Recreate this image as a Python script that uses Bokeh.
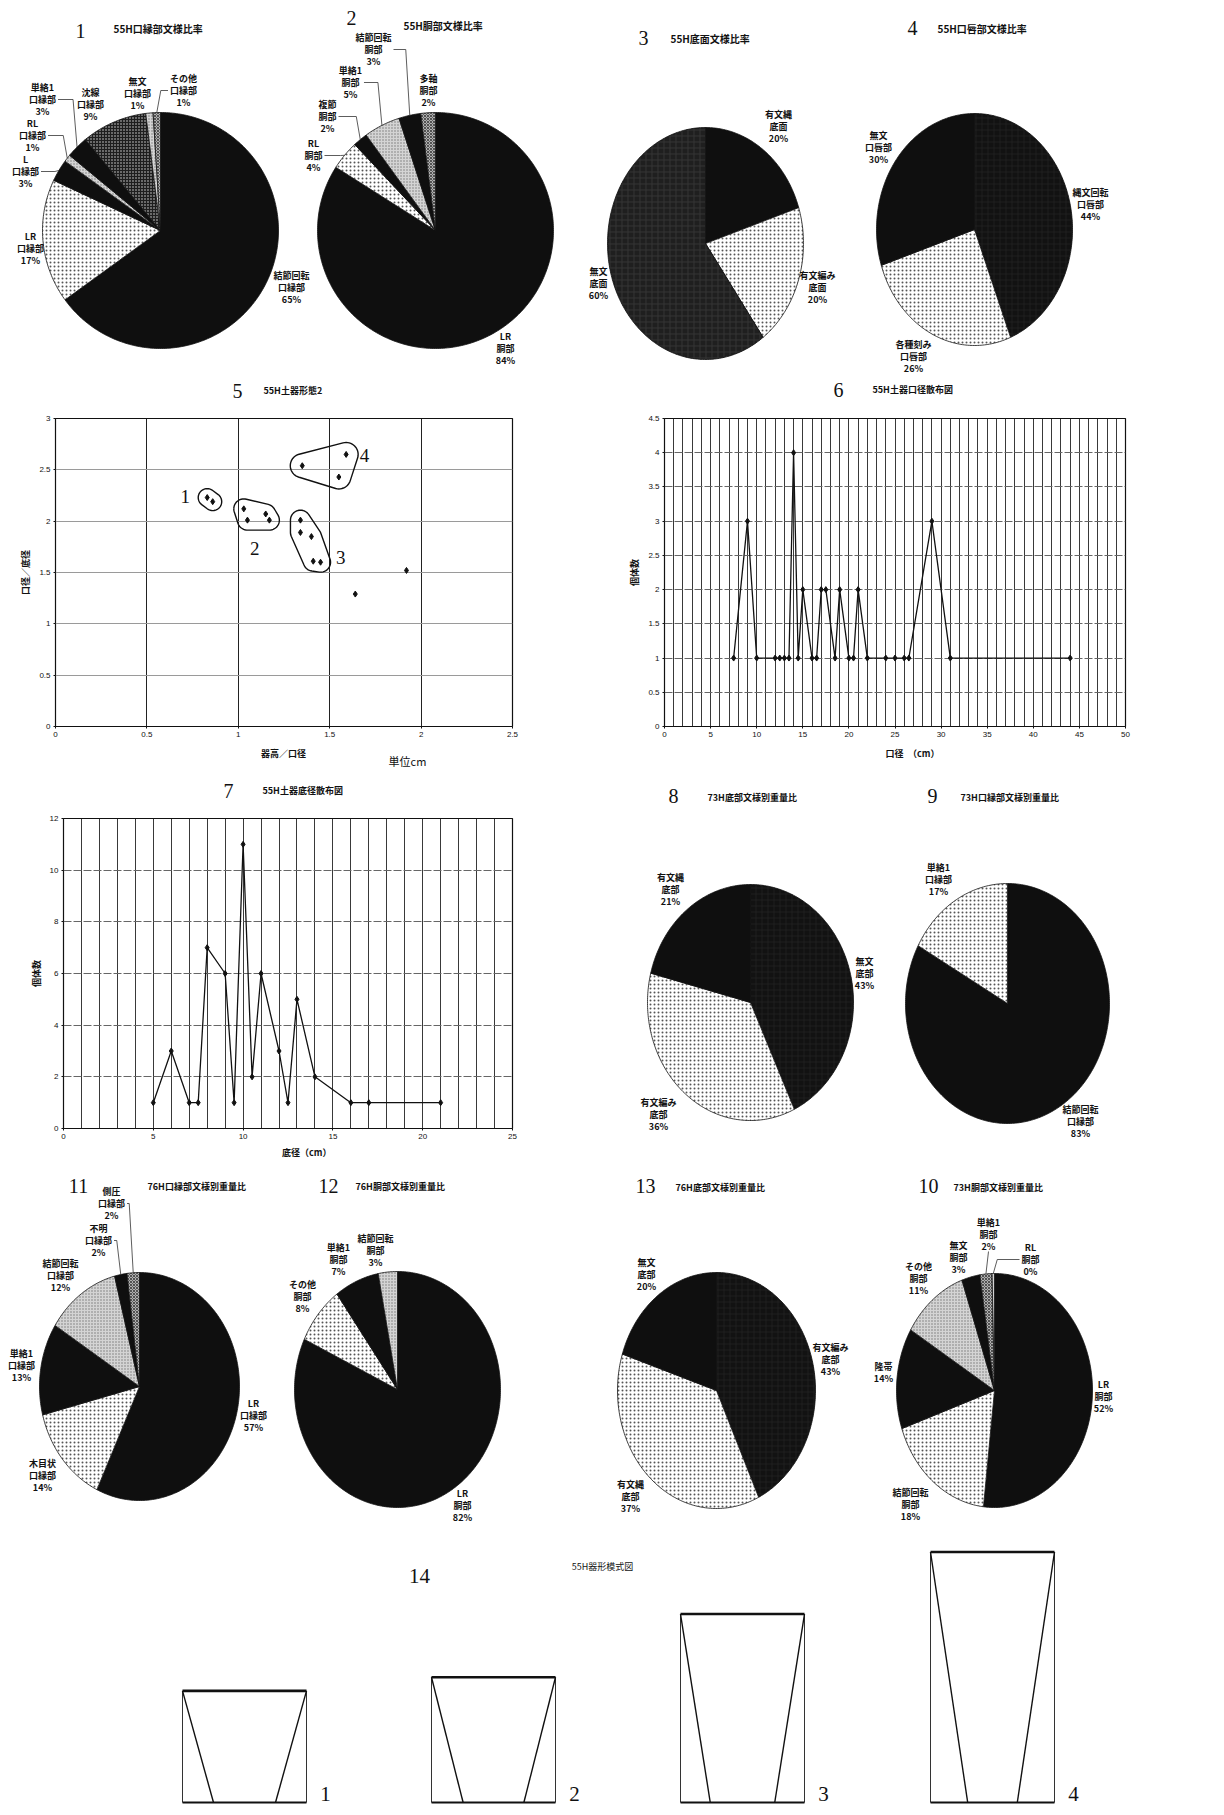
import numpy as np
from bokeh.plotting import figure
from bokeh.models import Range1d, NumeralTickFormatter, SingleIntervalTicker
from bokeh.layouts import column, row
from bokeh.embed import file_html
from bokeh.resources import INLINE
from bokeh.core.properties import value

JP = "Noto Sans CJK JP"
SERIF = "Liberation Serif"
SANS = "Liberation Sans"
INK = "#111111"

# ======================= DATA =======================
P1_NAMES = ["結節回転\n口縁部", "LR\n口縁部", "L\n口縁部", "RL\n口縁部", "単絡1\n口縁部",
            "沈線\n口縁部", "無文\n口縁部", "その他\n口縁部"]
P1_VALUES = [65, 17, 3, 1, 3, 9, 1, 1]
P2_NAMES = ["LR\n胴部", "RL\n胴部", "複節\n胴部", "単絡1\n胴部", "結節回転\n胴部", "多軸\n胴部"]
P2_VALUES = [84, 4, 2, 5, 3, 2]
P3_NAMES = ["有文縄\n底面", "有文編み\n底面", "無文\n底面"]
P3_VALUES = [20, 20, 60]
P4_NAMES = ["縄文回転\n口唇部", "各種刻み\n口唇部", "無文\n口唇部"]
P4_VALUES = [44, 26, 30]
P8_NAMES = ["無文\n底部", "有文編み\n底部", "有文縄\n底部"]
P8_VALUES = [43, 36, 21]
P9_NAMES = ["結節回転\n口縁部", "単絡1\n口縁部"]
P9_VALUES = [83, 17]
P11_NAMES = ["LR\n口縁部", "木目状\n口縁部", "単絡1\n口縁部", "結節回転\n口縁部", "不明\n口縁部", "側圧\n口縁部"]
P11_VALUES = [57, 14, 13, 12, 2, 2]
P12_NAMES = ["LR\n胴部", "その他\n胴部", "単絡1\n胴部", "結節回転\n胴部"]
P12_VALUES = [82, 8, 7, 3]
P13_NAMES = ["有文編み\n底部", "有文縄\n底部", "無文\n底部"]
P13_VALUES = [43, 37, 20]
P10_NAMES = ["LR\n胴部", "結節回転\n胴部", "隆帯", "その他\n胴部", "無文\n胴部", "単絡1\n胴部", "RL\n胴部"]
P10_VALUES = [52, 18, 14, 11, 3, 2, 0.4]

# chart 5 : 器高/口径 vs 口径/底径
S5_X = [0.83, 0.86, 1.03, 1.05, 1.15, 1.17, 1.34, 1.34, 1.40, 1.41, 1.45, 1.35, 1.55, 1.59, 1.92, 1.64]
S5_Y = [2.23, 2.19, 2.12, 2.01, 2.07, 2.01, 2.01, 1.89, 1.85, 1.61, 1.60, 2.54, 2.43, 2.65, 1.52, 1.29]
S5_GROUP = [1, 1, 2, 2, 2, 2, 3, 3, 3, 3, 3, 4, 4, 4, 0, 0]

# chart 6 : 口径 distribution
L6_X = [7.5, 9, 10, 12, 12.5, 13, 13.5, 14, 14.5, 15, 16, 16.5, 17, 17.5, 18.5, 19, 20, 20.5, 21, 22,
        24, 25, 26, 26.5, 29, 31, 44]
L6_Y = [1, 3, 1, 1, 1, 1, 1, 4, 1, 2, 1, 1, 2, 2, 1, 2, 1, 1, 2, 1, 1, 1, 1, 1, 3, 1, 1]

# chart 7 : 底径 distribution
L7_X = [5, 6, 7, 7.5, 8, 9, 9.5, 10, 10.5, 11, 12, 12.5, 13, 14, 16, 17, 21]
L7_Y = [1, 3, 1, 1, 7, 6, 1, 11, 2, 6, 3, 1, 5, 2, 1, 1, 1]

# chart 14 : vessel schematic (ratios to rim diameter)
V14_LABELS = ["1", "2", "3", "4"]
V14_HEIGHT = [0.90, 1.01, 1.52, 2.02]
V14_BASE = [0.50, 0.49, 0.52, 0.40]

# ======================= STYLES =======================
STYLE = {
    "black": dict(fill_color="#0f0f0f"),
    "dots": dict(fill_color="white", hatch_pattern="dot", hatch_color="#555555",
                 hatch_scale=4, hatch_weight=1.2),
    "light": dict(fill_color="#d4d4d4", hatch_pattern="dot", hatch_color="#777777",
                  hatch_scale=3, hatch_weight=1),
    "dark_check": dict(fill_color="#6a6a6a", hatch_pattern="cross", hatch_color="#1e1e1e",
                       hatch_scale=3, hatch_weight=1),
    "gray_check": dict(fill_color="#b0b0b0", hatch_pattern="diagonal_cross", hatch_color="#3a3a3a",
                       hatch_scale=3, hatch_weight=0.8),
    "tex_gray": dict(fill_color="#1f1f1f", hatch_pattern="cross", hatch_color="#333333",
                     hatch_scale=6, hatch_weight=1),
    "tex_dark": dict(fill_color="#121212", hatch_pattern="cross", hatch_color="#1e1e1e",
                     hatch_scale=6, hatch_weight=1),
}


def text_hw(s, size=9):
    lines = s.split("\n")
    w = max(sum(0.55 if ord(c) < 256 else 1.0 for c in ln) for ln in lines) * size
    return w / 2 + 2


def page_fig(x0, y0, w, h):
    p = figure(width=w, height=h, x_range=Range1d(x0, x0 + w), y_range=Range1d(y0 + h, y0),
               x_axis_type=None, y_axis_type=None, toolbar_location=None, output_backend="svg",
               min_border=0, title=None)
    p.outline_line_color = None
    p.background_fill_color = "white"
    p.border_fill_color = "white"
    return p


def put_text(p, xs, ys, texts, size="9px", font=JP, style="bold", align="center", baseline="middle"):
    p.text(x=xs, y=ys, text=texts, text_font=value(font), text_font_size=size, text_font_style=style,
           text_align=align, text_baseline=baseline, text_color=INK, text_line_height=0.95)


def put_title(p, num, nx, ny, ttl, tx, ty, size="9px"):
    put_text(p, [nx], [ny], [num], size="20px", font=SERIF, style="normal")
    put_text(p, [tx], [ty], [ttl], size=size, align="left")


def draw_pie(p, names, values, styles, geom, label_xy, leaders):
    cx, cy, rx, ry = geom
    vals = np.array(values, dtype=float)
    frac = vals / vals.sum()
    edges = np.concatenate([[0.0], np.cumsum(frac)]) * 2 * np.pi
    for i in range(len(vals)):
        a0, a1 = edges[i], edges[i + 1]
        n = max(3, int(np.degrees(a1 - a0)) + 3)
        t = np.linspace(a0, a1, n)
        xs = np.concatenate([[cx], cx + rx * np.sin(t)])
        ys = np.concatenate([[cy], cy - ry * np.cos(t)])
        p.patch(xs, ys, line_color=INK, line_width=0.8, **STYLE[styles[i]])
    pct = np.round(frac * 100).astype(int)
    texts = [f"{nm}\n{v}%" for nm, v in zip(names, pct)]
    put_text(p, [q[0] for q in label_xy], [q[1] for q in label_xy], texts)
    for i, mode in leaders:
        mid = (edges[i] + edges[i + 1]) / 2
        ex, ey = cx + rx * np.sin(mid), cy - ry * np.cos(mid)
        lx, ly = label_xy[i]
        hw = text_hw(texts[i])
        if mode == "L":
            sx = lx + hw
            pts = [(sx, ly)] + ([(ex - 4, ly)] if ex - 4 > sx else []) + [(ex, ey)]
        elif mode == "R":
            sx = lx - hw
            pts = [(sx, ly)] + ([(ex + 4, ly)] if ex + 4 < sx else []) + [(ex, ey)]
        else:
            pts = [(lx, ly + 17), (ex, ey)]
        p.line([q[0] for q in pts], [q[1] for q in pts], line_color="#333333", line_width=0.8)


def axis_fig(x0, y0, w, h, frame, xr, yr):
    fl, ft, fr, fb = frame
    p = figure(width=w, height=h, x_range=Range1d(*xr), y_range=Range1d(*yr), toolbar_location=None,
               output_backend="svg", title=None,
               min_border_left=fl - x0, min_border_right=x0 + w - fr,
               min_border_top=ft - y0, min_border_bottom=y0 + h - fb)
    p.outline_line_color = INK
    p.outline_line_width = 1.2
    p.background_fill_color = "white"
    p.border_fill_color = "white"
    for ax in (p.xaxis[0], p.yaxis[0]):
        ax.axis_line_color = None
        ax.major_tick_line_color = INK
        ax.major_tick_out = 2
        ax.major_tick_in = 0
        ax.minor_tick_line_color = None
        ax.major_label_text_font = SANS
        ax.major_label_text_font_size = "8px"
        ax.major_label_text_color = INK
        ax.major_label_standoff = 3
        ax.axis_label_text_font = JP
        ax.axis_label_text_font_size = "9px"
        ax.axis_label_text_font_style = "bold"
        ax.axis_label_text_color = INK
        ax.axis_label_standoff = 4
    px_per = ((fr - fl) / (xr[1] - xr[0]), (fb - ft) / (yr[1] - yr[0]))
    return p, px_per


def convex_hull(pts):
    pts = sorted(set(pts))
    if len(pts) <= 2:
        return pts

    def cross(o, a, b):
        return (a[0] - o[0]) * (b[1] - o[1]) - (a[1] - o[1]) * (b[0] - o[0])
    lower, upper = [], []
    for q in pts:
        while len(lower) >= 2 and cross(lower[-2], lower[-1], q) <= 0:
            lower.pop()
        lower.append(q)
    for q in reversed(pts):
        while len(upper) >= 2 and cross(upper[-2], upper[-1], q) <= 0:
            upper.pop()
        upper.append(q)
    return lower[:-1] + upper[:-1]


W = 1224
LEFT_W = 620
RIGHT_W = W - LEFT_W

# ======================= ROW 1 : pies 1-4 =======================
r1 = page_fig(0, 0, W, 378)
put_title(r1, "1", 80, 30, "55H口縁部文様比率", 113, 28, size="10px")
put_title(r1, "2", 351, 17, "55H胴部文様比率", 403, 25, size="10px")
put_title(r1, "3", 643, 37, "55H底面文様比率", 670, 38, size="10px")
put_title(r1, "4", 912, 27, "55H口唇部文様比率", 937, 28, size="10px")
draw_pie(r1, P1_NAMES, P1_VALUES,
         ["black", "dots", "black", "light", "black", "dark_check", "light", "gray_check"],
         (160, 230, 118, 118),
         [(291, 287), (30, 248), (25, 171), (32, 135), (42, 99), (90, 104), (137, 93), (183, 90)],
         [(2, "L"), (3, "L"), (4, "L"), (7, "R")])
draw_pie(r1, P2_NAMES, P2_VALUES,
         ["black", "dots", "black", "light", "black", "gray_check"],
         (435, 230, 118, 118),
         [(505, 348), (313, 155), (327, 116), (350, 82), (373, 49), (428, 90)],
         [(1, "L"), (2, "L"), (3, "L"), (4, "L")])
draw_pie(r1, P3_NAMES, P3_VALUES, ["black", "dots", "tex_gray"],
         (705, 243, 98, 116), [(778, 126), (817, 287), (598, 283)], [])
draw_pie(r1, P4_NAMES, P4_VALUES, ["tex_dark", "dots", "black"],
         (974, 229, 98, 116), [(1090, 204), (913, 356), (878, 147)], [])

# ======================= ROW 2 : charts 5 & 6 =======================
s2a = page_fig(0, 378, W, 24)
put_title(s2a, "5", 237, 390, "55H土器形態2", 263, 390)
put_title(s2a, "6", 838, 389, "55H土器口径散布図", 872, 389)

p5, pp5 = axis_fig(0, 402, LEFT_W, 344, (55, 418, 512, 728), (0, 2.5), (0, 3))
for ax in (p5.xaxis[0], p5.yaxis[0]):
    ax.ticker = SingleIntervalTicker(interval=0.5, num_minor_ticks=0)
    ax.formatter = NumeralTickFormatter(format="0.[0]")
p5.xgrid.grid_line_color = "#222222"
p5.xgrid.grid_line_width = 1
p5.ygrid.grid_line_color = "#9a9a9a"
p5.ygrid.grid_line_width = 1
p5.yaxis.axis_label = "口径／底径"

# cluster outlines (convex hull of the points, dilated in screen space)
sx, sy = pp5
ang = np.linspace(0, 2 * np.pi, 48, endpoint=False)
for g, pad in zip([1, 2, 3, 4], [9, 10, 10, 12]):
    pts = []
    for x, y, gg in zip(S5_X, S5_Y, S5_GROUP):
        if gg == g:
            for a in ang:
                pts.append((round(x * sx + pad * np.cos(a), 3), round(y * sy + pad * np.sin(a), 3)))
    h = convex_hull(pts)
    h.append(h[0])
    p5.line([q[0] / sx for q in h], [q[1] / sy for q in h], line_color=INK, line_width=1.4)
G_LABEL_POS = [(0.71, 2.24), (1.09, 1.73), (1.56, 1.65), (1.69, 2.64)]
p5.text(x=[q[0] for q in G_LABEL_POS], y=[q[1] for q in G_LABEL_POS], text=["1", "2", "3", "4"],
        text_font=value(SERIF), text_font_size="19px", text_align="center", text_baseline="middle",
        text_color=INK)
p5.scatter(S5_X, S5_Y, marker="diamond", size=6, color=INK)

p6, _ = axis_fig(LEFT_W, 402, RIGHT_W, 344, (664, 416, 1125, 726), (0, 50), (0, 4.5))
p6.xaxis.ticker = SingleIntervalTicker(interval=5, num_minor_ticks=0)
p6.xgrid.ticker = SingleIntervalTicker(interval=1, num_minor_ticks=0)
p6.yaxis.ticker = SingleIntervalTicker(interval=0.5, num_minor_ticks=0)
p6.yaxis.formatter = NumeralTickFormatter(format="0.[0]")
p6.xgrid.grid_line_color = "#222222"
p6.xgrid.grid_line_width = 0.9
p6.ygrid.grid_line_color = "#666666"
p6.ygrid.grid_line_dash = "8 2"
p6.yaxis.axis_label = "個体数"
p6.line(L6_X, L6_Y, line_color=INK, line_width=1.3)
p6.scatter(L6_X, L6_Y, marker="diamond", size=6, color=INK)

s2b = page_fig(0, 746, W, 24)
put_text(s2b, [283], [753], ["器高／口径"])
put_text(s2b, [407], [760], ["単位cm"], size="11px", style="normal")
put_text(s2b, [912], [753], ["口径　（cm）"])

# ======================= ROW 3 : chart 7 & pies 8, 9 =======================
s3a = page_fig(0, 770, W, 36)
put_title(s3a, "7", 228, 790, "55H土器底径散布図", 262, 790)
put_title(s3a, "8", 673, 795, "73H底部文様別重量比", 707, 797)
put_title(s3a, "9", 932, 795, "73H口縁部文様別重量比", 960, 797)

p7, _ = axis_fig(0, 806, LEFT_W, 338, (63, 818, 512, 1128), (0, 25), (0, 12))
p7.xaxis.ticker = SingleIntervalTicker(interval=5, num_minor_ticks=0)
p7.xgrid.ticker = SingleIntervalTicker(interval=1, num_minor_ticks=0)
p7.yaxis.ticker = SingleIntervalTicker(interval=2, num_minor_ticks=0)
p7.xgrid.grid_line_color = "#222222"
p7.xgrid.grid_line_width = 0.9
p7.ygrid.grid_line_color = "#666666"
p7.ygrid.grid_line_dash = "8 2"
p7.yaxis.axis_label = "個体数"
p7.line(L7_X, L7_Y, line_color=INK, line_width=1.3)
p7.scatter(L7_X, L7_Y, marker="diamond", size=6, color=INK)

s3b = page_fig(0, 1144, LEFT_W, 16)
put_text(s3b, [336], [1152], ["底径（cm）"])

r3 = page_fig(LEFT_W, 806, RIGHT_W, 354)
draw_pie(r3, P8_NAMES, P8_VALUES, ["tex_dark", "dots", "black"],
         (750, 1002, 103, 118), [(864, 973), (658, 1114), (670, 889)], [])
draw_pie(r3, P9_NAMES, P9_VALUES, ["black", "dots"],
         (1007, 1003, 102, 120), [(1080, 1121), (938, 879)], [])

# ======================= ROW 4 : pies 11, 12, 13, 10 =======================
r4 = page_fig(0, 1160, W, 365)
put_title(r4, "11", 78, 1185, "76H口縁部文様別重量比", 147, 1186)
put_title(r4, "12", 328, 1185, "76H胴部文様別重量比", 355, 1186)
put_title(r4, "13", 645, 1185, "76H底部文様別重量比", 675, 1187)
put_title(r4, "10", 928, 1185, "73H胴部文様別重量比", 953, 1187)
draw_pie(r4, P11_NAMES, P11_VALUES, ["black", "dots", "black", "light", "black", "gray_check"],
         (139, 1386, 100, 114),
         [(253, 1415), (42, 1475), (21, 1365), (60, 1275), (98, 1240), (111, 1203)],
         [(4, "L"), (5, "L")])
draw_pie(r4, P12_NAMES, P12_VALUES, ["black", "dots", "black", "light"],
         (397, 1389, 103, 118),
         [(462, 1505), (302, 1296), (338, 1259), (375, 1250)], [])
draw_pie(r4, P13_NAMES, P13_VALUES, ["tex_dark", "dots", "black"],
         (716, 1390, 99, 118), [(830, 1359), (630, 1496), (646, 1274)], [])
draw_pie(r4, P10_NAMES, P10_VALUES, ["black", "dots", "black", "light", "black", "gray_check", "light"],
         (994, 1390, 98, 117),
         [(1103, 1396), (910, 1504), (883, 1372), (918, 1278), (958, 1257), (988, 1234), (1030, 1259)],
         [(5, "T"), (6, "R")])

# ======================= ROW 5 : schematic 14 =======================
r5 = page_fig(0, 1525, W, 287)
put_text(r5, [419], [1575], ["14"], size="21px", font=SERIF, style="normal")
put_text(r5, [602], [1566], ["55H器形模式図"], size="9px", style="normal")
RIM = 124
V_LEFT = [182, 431, 680, 930]
BASE_Y = 1802
lefts = np.array(V_LEFT, float)
rights = lefts + RIM
tops = BASE_Y - RIM * np.array(V14_HEIGHT)
centers = lefts + RIM / 2
bh = RIM * np.array(V14_BASE) / 2
bottoms = np.full(4, BASE_Y, float)
r5.segment(x0=np.r_[lefts, rights], y0=np.r_[tops, tops], x1=np.r_[lefts, rights], y1=np.r_[bottoms, bottoms],
           line_color="#333333", line_width=1)
r5.segment(x0=np.r_[lefts, rights], y0=np.r_[tops, tops], x1=np.r_[centers - bh, centers + bh],
           y1=np.r_[bottoms, bottoms], line_color=INK, line_width=1.4)
r5.segment(x0=lefts, y0=bottoms, x1=rights, y1=bottoms, line_color=INK, line_width=2)
r5.segment(x0=lefts, y0=tops, x1=rights, y1=tops, line_color=INK, line_width=2.6)
put_text(r5, list(rights + 19), list(bottoms - 9), V14_LABELS, size="21px", font=SERIF, style="normal")

layout = column(r1, s2a, row(p5, p6), s2b, s3a, row(column(p7, s3b), r3), r4, r5)
open("out.html", "w").write(file_html(layout, INLINE))
